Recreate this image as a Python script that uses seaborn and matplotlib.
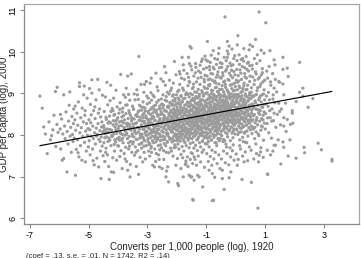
import numpy as np
import pandas as pd
import matplotlib
matplotlib.use("Agg")
import matplotlib.pyplot as plt
import seaborn as sns

# ---- data: (converts per 1,000 people (log), 1920 ; GDP per capita (log), 2000) ----
pts_a = [(-6.66,8.93),(-6.58,8.64),(-6.53,8.19),(-6.41,7.55),(-6.47,8.02),(-6.35,8.31),(-6.30,7.88),(-6.22,8.12),
         (-6.18,8.47),(-6.12,7.72),(-6.08,8.25),(-6.13,9.04),(-6.26,7.98),(-6.04,8.06),(-6.07,9.14)]
pts_b = [(-5.97,8.14),(-5.95,7.66),(-5.92,8.38),(-5.90,7.39),(-5.88,8.02),(-5.85,8.96),(-5.85,7.43),(-5.82,8.21),
         (-5.80,7.91),(-5.77,8.55),(-5.74,7.11),(-5.73,8.08),(-5.70,7.78),(-5.68,8.33),(-5.66,8.71),(-5.63,7.97),
         (-5.61,8.18),(-5.59,7.58),(-5.57,8.44),(-5.55,8.01),(-5.53,7.84),(-5.52,8.27),(-5.51,8.62),(-5.96,8.49),(-5.64,9.03)]
pts_c = [(-5.49,7.92),(-5.47,8.36),(-5.45,7.03),(-5.44,8.11),(-5.42,7.65),(-5.40,8.52),(-5.38,7.88),(-5.37,8.23),
         (-5.35,8.79),(-5.33,7.47),(-5.31,9.25),(-5.31,9.16),(-5.30,8.05),(-5.28,7.74),(-5.27,8.41),(-5.25,8.17),
         (-5.23,7.39),(-5.22,8.64),(-5.20,7.96),(-5.18,8.31),(-5.17,8.96),(-5.15,9.17),(-5.14,7.82),(-5.13,8.47),
         (-5.11,7.35),(-5.10,8.09),(-5.08,7.61),(-5.07,8.27),(-5.05,8.88),(-5.04,7.99),(-5.02,8.15),(-5.01,7.71),
         (-5.46,8.69),(-5.36,7.57),(-5.12,8.58)]
pts_d = [(-4.99,8.36),(-4.98,7.86),(-4.96,8.12),(-4.95,7.52),(-4.94,8.73),(-4.92,7.97),(-4.91,8.48),(-4.89,9.32),
         (-4.89,9.00),(-4.87,7.66),(-4.86,8.21),(-4.84,7.91),(-4.83,8.58),(-4.81,7.28),(-4.80,8.05),(-4.78,8.39),
         (-4.77,7.78),(-4.75,8.84),(-4.74,8.16),(-4.72,7.44),(-4.71,8.01),(-4.69,9.33),(-4.68,8.27),(-4.66,7.23),
         (-4.65,7.89),(-4.63,8.62),(-4.62,8.10),(-4.60,7.61),(-4.59,8.43),(-4.58,6.95),(-4.57,7.95),(-4.55,8.31),
         (-4.54,7.73),(-4.53,8.95),(-4.52,8.07),(-4.51,7.50),(-4.97,9.11),(-4.85,7.38),(-4.79,8.67),(-4.73,7.97),
         (-4.67,8.52),(-4.61,7.84),(-4.56,8.19),(-4.64,9.08),(-4.93,8.29)]
pts_e = [(-4.49,8.22),(-4.48,7.81),(-4.47,8.56),(-4.45,7.36),(-4.44,8.03),(-4.43,8.91),(-4.41,7.68),(-4.40,8.37),
         (-4.39,7.95),(-4.37,8.14),(-4.36,7.52),(-4.35,8.72),(-4.33,8.06),(-4.32,7.24),(-4.30,6.93),(-4.29,8.45),
         (-4.28,7.87),(-4.26,8.29),(-4.25,9.19),(-4.24,7.74),(-4.23,7.11),(-4.22,8.11),(-4.20,8.63),(-4.19,7.97),
         (-4.18,7.45),(-4.16,8.34),(-4.15,7.10),(-4.15,8.88),(-4.14,8.02),(-4.12,7.61),(-4.11,8.49),(-4.10,8.19),
         (-4.08,7.83),(-4.07,9.07),(-4.06,8.26),(-4.05,7.39),(-4.04,8.04),(-4.03,8.67),(-4.02,7.91),(-4.01,8.41),
         (-4.46,8.11),(-4.42,7.58),(-4.34,8.28),(-4.27,8.82),(-4.21,7.99),(-4.17,8.58),(-4.13,7.77),(-4.09,8.33),
         (-4.38,9.26),(-4.31,7.92)]
pts_f = [(-3.99,8.15),(-3.98,7.73),(-3.97,8.52),(-3.96,7.94),(-3.95,8.31),(-3.94,7.48),(-3.93,8.77),(-3.92,8.06),
         (-3.91,9.45),(-3.90,7.62),(-3.89,8.22),(-3.88,7.88),(-3.87,8.43),(-3.86,7.19),(-3.85,8.01),(-3.84,8.64),
         (-3.83,7.81),(-3.81,8.96),(-3.80,8.18),(-3.79,7.55),(-3.78,8.36),(-3.77,7.99),(-3.76,8.09),(-3.75,8.90),
         (-3.74,7.70),(-3.73,8.51),(-3.72,8.27),(-3.71,7.36),(-3.70,8.04),(-3.69,8.72),(-3.68,7.91),(-3.67,9.41),
         (-3.67,7.15),(-3.66,8.39),(-3.65,8.14),(-3.64,7.66),(-3.63,8.58),(-3.62,7.96),(-3.61,8.25),(-3.60,8.83),
         (-3.59,6.99),(-3.58,8.47),(-3.57,7.84),(-3.56,8.11),(-3.55,9.46),(-3.54,8.33),(-3.53,7.58),(-3.52,8.02),
         (-3.51,8.69),(-3.50,7.78),(-3.82,8.29),(-3.76,7.42),(-3.72,9.12),(-3.64,8.97),(-3.58,7.29),(-3.85,8.55),
         (-3.69,8.21),(-3.61,7.73),(-3.53,8.41),(-3.95,7.87)]
pts_g = [(-3.49,8.26),(-3.48,7.83),(-3.47,8.61),(-3.46,7.95),(-3.45,8.38),(-3.44,7.51),(-3.43,8.12),(-3.42,8.84),
         (-3.41,7.71),(-3.40,8.47),(-3.39,8.03),(-3.38,7.24),(-3.37,8.29),(-3.36,9.08),(-3.35,7.89),(-3.34,8.96),
         (-3.34,8.18),(-3.33,7.62),(-3.32,8.55),(-3.31,8.07),(-3.30,7.05),(-3.29,9.88),(-3.29,8.35),(-3.28,7.77),
         (-3.27,8.71),(-3.26,8.14),(-3.25,7.46),(-3.24,8.42),(-3.23,7.98),(-3.22,9.21),(-3.21,8.24),(-3.20,7.68),
         (-3.19,8.59),(-3.18,8.01),(-3.17,8.33),(-3.16,7.35),(-3.15,8.79),(-3.14,7.92),(-3.13,8.16),(-3.12,8.51),
         (-3.11,7.58),(-3.10,9.21),(-3.10,8.28),(-3.09,7.86),(-3.08,8.64),(-3.07,7.42),(-3.06,8.09),(-3.05,8.45),
         (-3.04,9.28),(-3.04,7.74),(-3.03,8.21),(-3.02,8.93),(-3.01,7.99),(-3.00,8.37),(-3.45,8.98),(-3.39,7.58),
         (-3.31,8.85),(-3.26,7.92),(-3.21,8.67),(-3.14,8.41),(-3.08,8.05),(-3.47,8.19),(-3.36,8.49),(-3.19,7.81),(-3.12,9.02)]
pts_h = [(-2.99,8.18),(-2.98,7.84),(-2.97,8.56),(-2.96,7.61),(-2.95,8.31),(-2.94,8.02),(-2.93,8.77),(-2.92,7.49),
         (-2.91,9.24),(-2.91,8.24),(-2.90,7.93),(-2.89,8.49),(-2.88,9.01),(-2.88,8.11),(-2.87,7.72),(-2.86,8.38),
         (-2.85,8.65),(-2.84,7.97),(-2.83,8.27),(-2.82,7.27),(-2.81,8.53),(-2.80,8.06),(-2.79,7.81),(-2.78,8.42),
         (-2.77,8.91),(-2.76,7.23),(-2.76,8.17),(-2.75,7.66),(-2.74,8.34),(-2.73,8.71),(-2.72,7.98),(-2.71,8.22),
         (-2.70,7.55),(-2.69,8.59),(-2.68,8.09),(-2.67,9.15),(-2.66,7.89),(-2.65,8.45),(-2.64,8.29),(-2.63,7.74),
         (-2.62,8.83),(-2.61,8.13),(-2.60,7.41),(-2.59,7.23),(-2.59,8.36),(-2.58,8.01),(-2.57,8.62),(-2.56,7.86),
         (-2.55,8.49),(-2.54,9.34),(-2.53,8.19),(-2.52,7.69),(-2.51,8.74),(-2.50,7.19),(-2.50,8.27),(-2.97,8.88),
         (-2.93,8.15),(-2.86,7.58),(-2.81,8.95),(-2.78,8.61),(-2.72,7.36),(-2.68,8.51),(-2.64,9.06),(-2.61,8.33),
         (-2.56,7.95),(-2.53,8.55),(-2.84,8.43),(-2.74,7.91),(-2.66,8.04),(-2.58,8.69),(-2.95,7.77),(-2.87,9.36),
         (-2.79,8.13),(-2.71,9.48),(-2.62,7.52)]
pts_i = [(-2.49,8.31),(-2.48,7.88),(-2.47,8.64),(-2.46,8.06),(-2.45,7.62),(-2.44,8.47),(-2.43,8.19),(-2.42,9.64),
         (-2.41,7.95),(-2.40,8.83),(-2.39,8.37),(-2.38,7.74),(-2.37,9.49),(-2.37,6.99),(-2.36,8.12),(-2.35,7.13),
         (-2.35,8.56),(-2.34,8.28),(-2.33,7.82),(-2.32,9.02),(-2.31,7.23),(-2.31,8.41),(-2.30,8.03),(-2.29,8.69),
         (-2.28,6.87),(-2.28,8.22),(-2.27,7.57),(-2.26,8.51),(-2.25,9.31),(-2.25,8.14),(-2.24,7.91),(-2.23,8.78),
         (-2.22,8.35),(-2.21,7.68),(-2.20,8.59),(-2.19,8.09),(-2.18,9.12),(-2.17,8.44),(-2.16,7.83),(-2.15,8.26),
         (-2.14,8.93),(-2.13,7.49),(-2.12,9.24),(-2.12,8.17),(-2.11,8.62),(-2.10,7.97),(-2.09,8.38),(-2.08,9.76),
         (-2.08,8.71),(-2.07,7.76),(-2.06,8.29),(-2.05,8.52),(-2.04,8.01),(-2.03,9.44),(-2.03,7.27),(-2.02,8.45),
         (-2.01,8.11),(-2.00,7.86),(-2.47,8.96),(-2.44,7.41),(-2.41,8.58),(-2.38,8.24),(-2.34,8.81),(-2.31,7.99),
         (-2.27,8.66),(-2.24,8.46),(-2.21,9.06),(-2.18,7.61),(-2.15,8.74),(-2.12,8.33),(-2.09,7.69),(-2.06,8.87),
         (-2.03,8.57),(-2.45,8.39),(-2.39,9.19),(-2.33,8.05),(-2.29,8.33),(-2.23,8.18),(-2.19,8.41),(-2.14,8.06),
         (-2.10,8.49),(-2.05,8.25),(-2.01,8.96),(-2.48,8.72),(-2.36,7.58),(-2.26,8.98),(-2.16,8.54),(-2.07,8.16),
         (-2.02,7.95),(-2.43,7.79),(-2.32,8.67),(-2.22,7.89),(-2.13,8.82),(-2.04,7.71),(-2.46,9.28)]
pts_j = [(-1.97,6.83),(-1.94,6.78),(-1.86,7.19),(-1.89,9.46),(-1.82,9.86),(-1.78,9.68),(-1.78,6.99),(-1.71,7.29),
         (-1.69,7.31),(-1.60,9.86),(-1.60,9.38),(-1.58,7.03),(-1.55,10.12),(-1.52,6.99),(-1.52,9.65),(-1.51,10.08),
         (-1.99,8.34),(-1.99,7.92),(-1.98,8.61),(-1.98,8.12),(-1.97,8.47),(-1.96,7.78),(-1.96,8.88),(-1.95,8.23),
         (-1.95,8.02),(-1.94,8.55),(-1.93,9.07),(-1.93,7.66),(-1.92,8.39),(-1.92,8.18),(-1.91,8.74),(-1.91,7.95),
         (-1.90,8.29),(-1.90,9.21),(-1.89,8.51),(-1.88,7.85),(-1.88,8.07),(-1.87,8.66),(-1.87,8.36),(-1.86,7.53),
         (-1.85,8.92),(-1.85,8.21),(-1.84,8.45),(-1.84,7.99),(-1.83,8.79),(-1.83,8.13),(-1.82,7.72),(-1.81,8.58),
         (-1.81,8.31),(-1.80,9.12),(-1.80,8.02),(-1.79,8.42),(-1.78,8.86),(-1.77,7.89),(-1.77,8.25),(-1.76,8.63),
         (-1.76,7.61),(-1.75,8.49),(-1.75,8.11),(-1.74,9.33),(-1.74,8.37),(-1.73,7.96),(-1.73,8.71),(-1.72,8.19),
         (-1.72,7.81),(-1.71,8.54),(-1.70,8.97),(-1.70,8.06),(-1.69,8.34),(-1.68,7.74),(-1.68,8.62),(-1.67,8.27),
         (-1.67,9.01),(-1.66,8.46),(-1.66,7.93),(-1.65,8.15),(-1.64,8.79),(-1.64,7.47),(-1.63,8.39),(-1.63,8.56),
         (-1.62,8.03),(-1.62,9.18),(-1.61,8.29),(-1.61,7.87),(-1.60,8.68),(-1.59,8.44),(-1.59,8.12),(-1.58,7.69),
         (-1.58,8.91),(-1.57,8.33),(-1.57,8.58),(-1.56,7.98),(-1.56,9.26),(-1.55,8.49),(-1.55,8.21),(-1.54,7.79),
         (-1.54,8.74),(-1.53,8.37),(-1.53,8.06),(-1.52,8.61),(-1.51,7.57),(-1.51,8.83),(-1.50,8.27),(-1.50,8.44),
         (-1.98,7.43),(-1.91,9.52),(-1.84,9.36),(-1.76,9.55),(-1.69,7.37),(-1.65,9.47),(-1.62,7.24),(-1.57,9.71),
         (-1.54,7.41),(-1.95,8.77),(-1.80,7.45)]
pts_k = [(-1.49,6.99),(-1.46,6.45),(-1.44,6.43),(-1.41,6.91),(-1.37,9.49),(-1.29,7.03),(-1.24,6.99),(-1.16,9.76),
         (-1.12,6.75),(-1.01,9.80),(-1.41,7.47),(-1.46,7.31),
         (-1.49,8.42),(-1.49,8.13),(-1.48,8.71),(-1.48,7.91),(-1.47,8.35),(-1.47,8.96),(-1.46,8.19),(-1.46,8.57),
         (-1.45,7.82),(-1.45,8.48),(-1.44,9.14),(-1.44,8.27),(-1.43,8.65),(-1.43,8.04),(-1.42,8.39),(-1.42,7.68),
         (-1.41,8.82),(-1.40,8.21),(-1.40,8.53),(-1.39,7.97),(-1.39,9.03),(-1.38,8.31),(-1.38,8.67),(-1.37,8.09),
         (-1.36,8.45),(-1.36,7.75),(-1.35,8.92),(-1.35,8.24),(-1.34,8.59),(-1.34,8.01),(-1.33,9.27),(-1.33,8.37),
         (-1.32,7.88),(-1.32,8.74),(-1.31,8.16),(-1.31,8.51),(-1.30,8.88),(-1.30,7.62),(-1.29,8.29),(-1.28,8.63),
         (-1.28,8.07),(-1.27,9.09),(-1.27,8.43),(-1.26,7.94),(-1.26,8.78),(-1.25,8.22),(-1.25,8.55),(-1.24,8.35),
         (-1.23,7.81),(-1.23,8.97),(-1.22,8.13),(-1.22,8.69),(-1.21,8.46),(-1.21,9.21),(-1.20,8.03),(-1.20,8.32),
         (-1.19,8.84),(-1.19,7.71),(-1.18,8.57),(-1.18,8.19),(-1.17,8.41),(-1.17,9.38),(-1.16,7.98),(-1.15,8.73),
         (-1.15,8.26),(-1.14,8.62),(-1.14,8.09),(-1.13,9.01),(-1.13,8.38),(-1.12,7.86),(-1.11,8.51),(-1.11,8.17),
         (-1.10,8.94),(-1.10,8.44),(-1.09,7.64),(-1.09,8.29),(-1.08,8.67),(-1.08,8.05),(-1.07,9.15),(-1.07,8.49),
         (-1.06,7.93),(-1.06,8.81),(-1.05,8.24),(-1.05,8.58),(-1.04,8.36),(-1.04,9.43),(-1.03,7.79),(-1.03,8.71),
         (-1.02,8.14),(-1.02,8.99),(-1.01,8.47),(-1.00,8.31),(-1.00,7.98),(-1.47,7.55),(-1.38,7.41),(-1.33,7.27),
         (-1.27,7.49),(-1.19,7.35),(-1.14,7.58),(-1.06,7.22),(-1.42,9.41),(-1.35,9.62),(-1.26,9.53),(-1.21,9.67),
         (-1.09,9.58),(-1.04,9.89),(-1.45,8.87),(-1.31,8.42),(-1.24,8.91),(-1.16,8.33),(-1.12,8.61)]
pts_l = [(-0.96,10.24),(-0.79,6.42),(-0.79,7.07),(-0.75,6.43),(-0.56,10.08),
         (-0.99,8.53),(-0.99,8.17),(-0.98,8.84),(-0.98,8.36),(-0.97,7.92),(-0.97,8.67),(-0.96,8.28),(-0.96,9.11),
         (-0.95,8.49),(-0.95,8.02),(-0.94,8.76),(-0.94,8.41),(-0.93,7.84),(-0.93,9.32),(-0.92,8.59),(-0.92,8.21),
         (-0.91,8.95),(-0.91,8.33),(-0.90,7.71),(-0.90,8.64),(-0.89,8.12),(-0.89,8.87),(-0.88,8.45),(-0.88,9.21),
         (-0.87,8.06),(-0.87,8.72),(-0.86,8.38),(-0.86,7.97),(-0.85,8.91),(-0.85,8.54),(-0.84,8.24),(-0.84,9.47),
         (-0.83,8.68),(-0.83,7.88),(-0.82,8.31),(-0.82,8.99),(-0.81,8.47),(-0.81,8.14),(-0.80,8.79),(-0.80,7.63),
         (-0.79,8.57),(-0.78,8.26),(-0.78,9.06),(-0.77,8.43),(-0.77,8.02),(-0.76,8.83),(-0.76,9.62),(-0.75,8.35),
         (-0.74,8.66),(-0.74,7.94),(-0.73,8.19),(-0.73,8.94),(-0.72,8.51),(-0.72,9.27),(-0.71,8.09),(-0.71,8.73),
         (-0.70,8.39),(-0.70,7.81),(-0.69,8.61),(-0.69,9.13),(-0.68,8.29),(-0.68,8.86),(-0.67,8.46),(-0.67,7.99),
         (-0.66,9.38),(-0.66,8.71),(-0.65,8.17),(-0.65,8.55),(-0.64,8.92),(-0.64,7.74),(-0.63,8.34),(-0.63,8.81),
         (-0.62,8.06),(-0.62,9.04),(-0.61,8.63),(-0.61,8.41),(-0.60,7.91),(-0.60,9.51),(-0.59,8.27),(-0.59,8.76),
         (-0.58,8.52),(-0.58,8.12),(-0.57,8.97),(-0.57,9.22),(-0.56,8.37),(-0.55,8.69),(-0.55,7.86),(-0.54,8.48),
         (-0.54,9.09),(-0.53,8.21),(-0.53,8.84),(-0.52,8.58),(-0.52,9.73),(-0.51,8.01),(-0.51,8.44),(-0.50,8.78),
         (-0.98,7.55),(-0.93,7.36),(-0.86,7.48),(-0.81,7.27),(-0.74,7.42),(-0.69,7.58),(-0.63,7.31),(-0.57,7.52),
         (-0.53,7.19),(-0.95,9.77),(-0.89,9.64),(-0.83,9.91),(-0.76,10.02),(-0.71,9.83),(-0.65,9.69),(-0.58,9.95),
         (-0.97,9.41),(-0.88,9.56),(-0.79,9.31),(-0.62,9.44),(-0.55,9.61),(-0.84,8.57),(-0.72,8.62),(-0.66,8.28),
         (-0.90,7.15),(-0.71,6.98)]
pts_m = [(-0.45,6.95),(-0.45,7.15),(-0.39,6.69),(-0.36,10.83),(-0.28,10.24),(-0.28,10.01),(-0.22,10.13),
         (-0.22,6.97),(-0.16,7.11),(-0.03,9.90),
         (-0.49,8.62),(-0.49,8.24),(-0.48,8.93),(-0.48,8.45),(-0.47,7.98),(-0.47,8.71),(-0.46,8.36),(-0.46,9.18),
         (-0.45,8.57),(-0.44,8.11),(-0.44,8.84),(-0.43,8.49),(-0.43,9.42),(-0.42,8.27),(-0.42,8.67),(-0.41,7.89),
         (-0.41,9.03),(-0.40,8.41),(-0.40,8.76),(-0.39,8.18),(-0.38,8.97),(-0.38,8.55),(-0.37,9.29),(-0.37,8.33),
         (-0.36,8.81),(-0.35,8.06),(-0.35,8.64),(-0.34,9.14),(-0.34,8.47),(-0.33,7.78),(-0.33,8.91),(-0.32,8.29),
         (-0.32,8.69),(-0.31,9.57),(-0.31,8.52),(-0.30,8.15),(-0.30,8.87),(-0.29,8.38),(-0.29,9.08),(-0.28,8.61),
         (-0.27,7.95),(-0.27,8.79),(-0.26,8.44),(-0.26,9.33),(-0.25,8.22),(-0.25,8.73),(-0.24,9.01),(-0.24,8.56),
         (-0.23,8.09),(-0.23,8.94),(-0.21,8.35),(-0.21,9.48),(-0.20,8.67),(-0.20,8.12),(-0.19,8.86),(-0.19,8.48),
         (-0.18,9.19),(-0.18,7.86),(-0.17,8.62),(-0.17,8.31),(-0.16,8.98),(-0.15,8.53),(-0.15,9.66),(-0.14,8.19),
         (-0.14,8.77),(-0.13,8.42),(-0.13,9.11),(-0.12,8.04),(-0.12,8.68),(-0.11,8.91),(-0.11,8.36),(-0.10,9.37),
         (-0.10,8.57),(-0.09,7.93),(-0.09,8.82),(-0.08,8.26),(-0.08,9.05),(-0.07,8.71),(-0.07,8.47),(-0.06,9.52),
         (-0.06,8.14),(-0.05,8.89),(-0.05,8.58),(-0.04,8.33),(-0.04,9.24),(-0.03,8.74),(-0.02,8.02),(-0.02,8.96),
         (-0.01,8.51),(-0.01,9.16),(-0.48,7.42),(-0.41,7.61),(-0.35,7.33),(-0.29,7.55),(-0.23,7.28),(-0.17,7.47),
         (-0.11,7.62),(-0.05,7.39),(-0.46,9.71),(-0.39,9.86),(-0.32,9.78),(-0.25,9.94),(-0.19,9.72),(-0.12,10.06),
         (-0.06,9.83),(-0.43,7.84),(-0.31,7.71),(-0.19,7.69),(-0.08,7.76),(-0.27,9.64),(-0.14,9.55),(-0.44,9.49),
         (-0.36,8.69),(-0.21,8.48)]
pts_n = [(0.08,10.38),(0.06,10.16),(0.06,7.27),(0.27,9.77),(0.29,7.35),(0.40,9.72),(0.46,10.04),(0.49,10.16),
         (0.01,8.65),(0.01,8.28),(0.02,8.97),(0.03,8.46),(0.03,9.31),(0.04,8.12),(0.04,8.79),(0.05,8.54),
         (0.06,9.08),(0.07,8.37),(0.07,8.89),(0.08,8.01),(0.09,8.63),(0.09,9.42),(0.10,8.21),(0.11,8.77),
         (0.11,8.49),(0.12,9.17),(0.13,8.34),(0.13,8.92),(0.14,7.88),(0.15,8.59),(0.15,9.56),(0.16,8.16),
         (0.17,8.83),(0.17,8.43),(0.18,9.02),(0.19,8.69),(0.19,8.07),(0.20,9.33),(0.21,8.51),(0.21,8.26),
         (0.22,8.94),(0.23,8.38),(0.23,9.64),(0.24,7.94),(0.25,8.72),(0.25,9.11),(0.26,8.55),(0.27,8.19),
         (0.28,8.86),(0.28,8.41),(0.29,9.24),(0.30,8.04),(0.31,8.67),(0.31,9.47),(0.32,8.31),(0.33,8.98),
         (0.33,8.53),(0.34,7.82),(0.35,8.76),(0.35,9.08),(0.36,8.23),(0.37,8.61),(0.37,9.36),(0.38,8.45),
         (0.39,8.09),(0.39,8.91),(0.40,8.58),(0.41,9.19),(0.42,8.35),(0.42,7.97),(0.43,8.82),(0.44,8.49),
         (0.44,9.53),(0.45,8.17),(0.46,8.71),(0.47,8.96),(0.47,8.28),(0.48,9.28),(0.49,8.62),(0.02,7.54),
         (0.09,7.41),(0.17,7.66),(0.24,7.49),(0.33,7.59),(0.41,7.38),(0.47,7.71),(0.05,9.78),(0.12,9.92),
         (0.19,9.81),(0.28,10.07),(0.36,9.88),(0.44,9.74),(0.14,7.74),(0.38,7.81),(0.22,6.93),(0.13,9.69),
         (0.31,9.61),(0.48,9.66),(0.26,7.84)]
pts_o = [(0.54,6.86),(0.68,10.29),(0.71,7.55),(0.74,9.92),(0.76,6.24),(0.80,10.95),(0.80,7.51),(0.80,8.60),
         (0.85,7.59),(0.97,9.96),
         (0.51,8.44),(0.52,8.87),(0.53,8.21),(0.54,9.13),(0.55,8.59),(0.56,8.03),(0.57,8.74),(0.58,9.39),
         (0.59,8.36),(0.60,8.92),(0.61,8.14),(0.62,8.67),(0.63,9.21),(0.64,8.49),(0.65,7.91),(0.66,8.81),
         (0.67,8.29),(0.68,9.51),(0.69,8.62),(0.70,8.07),(0.71,8.97),(0.72,8.41),(0.73,9.06),(0.75,8.24),
         (0.76,8.71),(0.77,9.34),(0.78,8.53),(0.79,7.98),(0.81,8.88),(0.82,8.33),(0.83,9.16),(0.84,8.58),
         (0.86,8.11),(0.87,8.79),(0.88,9.44),(0.89,8.39),(0.90,8.96),(0.91,8.19),(0.92,8.66),(0.93,9.27),
         (0.94,8.47),(0.95,7.87),(0.96,8.73),(0.97,9.08),(0.98,8.28),(0.99,8.84),(0.53,7.63),(0.62,7.42),
         (0.69,7.78),(0.78,7.35),(0.86,7.69),(0.94,7.46),(0.56,9.67),(0.64,9.83),(0.72,9.71),(0.83,9.78),
         (0.91,9.59),(0.58,10.12),(0.87,10.03)]
pts_p = [(1.03,10.69),(1.08,7.06),(1.08,7.63),(1.10,7.05),(1.14,9.64),(1.17,10.02),(1.28,8.96),(1.31,9.80),
         (1.31,9.12),(1.31,7.75),(1.34,9.68),(1.36,7.75),(1.47,9.28),(1.47,8.76),(1.50,9.26),(1.50,8.56),
         (1.02,8.51),(1.05,8.93),(1.07,8.27),(1.09,9.36),(1.11,8.68),(1.13,8.05),(1.15,8.84),(1.18,8.41),
         (1.20,9.19),(1.22,7.92),(1.24,8.62),(1.26,9.47),(1.29,8.34),(1.33,8.77),(1.37,8.18),(1.40,9.03),
         (1.42,8.49),(1.45,7.88),(1.19,7.52),(1.27,7.61)]
pts_q = [(1.53,8.24),(1.54,7.30),(1.61,9.86),(1.61,9.57),(1.61,9.22),(1.61,7.83),(1.64,8.96),(1.64,8.41),
         (1.64,8.21),(1.64,7.70),(1.70,8.76),(1.76,9.60),(1.76,8.37),(1.79,9.40),(1.79,7.49),(1.85,7.88),
         (1.87,8.25),(1.93,8.58),(1.93,8.52),(1.95,8.28),(1.56,8.62),(1.72,8.08)]
pts_r = [(2.06,8.80),(2.06,7.44),(2.18,9.74),(2.18,9.02),(2.29,9.12),(2.29,8.93),(2.33,7.70),(2.35,7.57),(2.47,8.66)]
pts_s = [(2.63,8.87),(2.81,7.80),(2.92,7.64),(3.28,7.41),(3.28,7.37)]

# dense core of the cloud
core_leftmid = [(-4.48,8.17),(-4.45,7.93),(-4.41,8.42),(-4.38,8.06),(-4.34,7.84),(-4.31,8.31),(-4.28,8.13),(-4.24,8.56),
         (-4.21,7.96),(-4.17,8.24),(-4.14,8.47),(-4.11,7.88),(-4.07,8.12),(-4.04,8.36),(-4.01,7.74),(-3.97,8.21),
         (-3.94,8.61),(-3.91,8.03),(-3.88,8.33),(-3.84,7.92),(-3.81,8.46),(-3.78,8.15),(-3.74,8.71),(-3.71,8.01),
         (-3.68,8.28),(-3.64,7.81),(-3.61,8.52),(-3.58,8.19),(-3.54,8.39),(-3.51,7.97),(-3.48,8.63),(-3.44,8.08),
         (-3.41,8.27),(-3.38,7.89),(-3.34,8.44),(-3.31,8.17),(-3.28,8.58),(-3.25,8.02),(-3.22,8.34),(-3.21,7.79)]
core1 = [(-3.19,8.21),(-3.17,7.94),(-3.16,8.48),(-3.14,8.13),(-3.13,8.66),(-3.11,7.87),(-3.10,8.32),(-3.08,8.19),
         (-3.07,8.57),(-3.05,7.99),(-3.04,8.41),(-3.02,8.08),(-3.01,8.74),(-2.99,8.27),(-2.98,7.91),(-2.96,8.52),
         (-2.95,8.16),(-2.93,8.37),(-2.92,7.79),(-2.90,8.61),(-2.89,8.04),(-2.87,8.29),(-2.86,8.83),(-2.84,8.11),
         (-2.83,7.86),(-2.81,8.44),(-2.80,8.22),(-2.78,8.69),(-2.77,7.96),(-2.75,8.35),(-2.74,8.06),(-2.72,8.56),
         (-2.71,7.83),(-2.69,8.25),(-2.68,8.78),(-2.66,8.14),(-2.65,7.93),(-2.63,8.47),(-2.62,8.21),(-2.60,8.63),
         (-2.59,8.02),(-2.57,8.39),(-2.56,7.76),(-2.54,8.28),(-2.53,8.86),(-2.51,8.09),(-2.50,8.51),(-2.48,7.97),
         (-2.47,8.33),(-2.45,8.71),(-2.44,8.15),(-2.42,8.43),(-2.41,7.89),(-2.39,8.58),(-2.38,8.24),(-2.36,8.92),
         (-2.35,8.03),(-2.33,8.37),(-2.32,7.84),(-2.30,8.66),(-2.29,8.18),(-2.27,8.49),(-2.26,7.94),(-2.24,8.29),
         (-2.23,8.76),(-2.21,8.12),(-2.20,8.55),(-3.12,7.73),(-2.88,7.68),(-2.58,7.64)]
core2 = [(-2.19,8.34),(-2.18,8.07),(-2.17,8.71),(-2.16,8.22),(-2.15,7.91),(-2.14,8.53),(-2.13,8.39),(-2.12,8.96),
         (-2.11,8.14),(-2.10,8.62),(-2.09,7.86),(-2.08,8.46),(-2.07,8.28),(-2.06,8.81),(-2.05,8.02),(-2.04,8.57),
         (-2.03,8.19),(-2.02,8.74),(-2.01,7.97),(-2.00,8.41),(-1.99,8.67),(-1.98,8.26),(-1.97,9.04),(-1.96,8.11),
         (-1.95,8.49),(-1.94,7.88),(-1.93,8.36),(-1.92,8.84),(-1.91,8.21),(-1.90,8.59),(-1.89,8.04),(-1.88,8.72),
         (-1.87,8.31),(-1.86,8.94),(-1.85,7.93),(-1.84,8.54),(-1.83,8.17),(-1.82,8.43),(-1.81,8.79),(-1.80,8.09),
         (-1.79,8.64),(-1.78,8.24),(-1.77,9.07),(-1.76,8.38),(-1.75,7.84),(-1.74,8.51),(-1.73,8.16),(-1.72,8.88),
         (-1.71,8.33),(-1.70,8.61),(-1.69,7.99),(-1.68,8.46),(-1.67,8.73),(-1.66,8.12),(-1.65,8.56),(-1.64,8.29),
         (-1.63,8.97),(-1.62,8.06),(-1.61,8.42),(-1.60,8.77),(-1.59,8.23),(-1.58,8.52),(-1.57,7.92),(-1.56,8.68),
         (-1.55,8.35),(-1.54,8.99),(-1.53,8.14),(-1.52,8.47),(-1.51,8.81),(-1.50,8.03),(-1.49,8.58),(-1.48,8.31),
         (-1.47,9.11),(-1.46,8.43),(-1.45,8.18),(-1.44,8.69),(-1.43,7.96),(-1.42,8.54),(-1.41,8.27),(-1.40,8.86),
         (-1.39,8.39),(-1.38,8.12),(-1.37,8.76),(-1.36,8.49),(-1.35,8.06),(-1.34,8.63),(-1.33,8.34),(-1.32,9.02),
         (-1.31,8.21),(-1.30,8.57),(-1.29,7.89),(-1.28,8.44),(-1.27,8.71),(-1.26,8.15),(-1.25,8.92),(-1.24,8.37),
         (-1.23,8.62),(-1.22,8.01),(-1.21,8.49),(-1.20,8.79)]
core3 = [(-1.19,8.41),(-1.18,8.72),(-1.17,8.13),(-1.16,8.59),(-1.15,9.06),(-1.14,8.31),(-1.13,8.84),(-1.12,8.04),
         (-1.11,8.66),(-1.10,8.27),(-1.09,8.93),(-1.08,8.49),(-1.07,7.96),(-1.06,8.61),(-1.05,8.38),(-1.04,9.12),
         (-1.03,8.19),(-1.02,8.77),(-1.01,8.54),(-1.00,8.06),(-0.99,8.69),(-0.98,8.32),(-0.97,9.01),(-0.96,8.47),
         (-0.95,8.14),(-0.94,8.86),(-0.93,8.57),(-0.92,7.93),(-0.91,8.63),(-0.90,8.36),(-0.89,9.18),(-0.88,8.24),
         (-0.87,8.79),(-0.86,8.52),(-0.85,8.09),(-0.84,8.71),(-0.83,8.43),(-0.82,9.07),(-0.81,8.29),(-0.80,8.61),
         (-0.79,8.88),(-0.78,8.17),(-0.77,8.56),(-0.76,8.34),(-0.75,8.97),(-0.74,8.46),(-0.73,7.99),(-0.72,8.74),
         (-0.71,8.26),(-0.70,8.93),(-0.69,8.51),(-0.68,8.11),(-0.67,8.67),(-0.66,8.39),(-0.65,9.14),(-0.64,8.21),
         (-0.63,8.82),(-0.62,8.54),(-0.61,8.03),(-0.60,8.73),(-0.59,8.44),(-0.58,9.03),(-0.57,8.31),(-0.56,8.64),
         (-0.55,8.16),(-0.54,8.89),(-0.53,8.48),(-0.52,8.24),(-0.51,8.96),(-0.50,8.57),(-0.49,8.08),(-0.48,8.69),
         (-0.47,8.36),(-0.46,9.09),(-0.45,8.51),(-0.44,8.27),(-0.43,8.81),(-0.42,8.59),(-0.41,8.13),(-0.40,8.92),
         (-0.39,8.46),(-0.38,8.22),(-0.37,8.74),(-0.36,8.41),(-0.35,9.21),(-0.34,8.63),(-0.33,8.18),(-0.32,8.86),
         (-0.31,8.34),(-0.30,8.57),(-0.29,8.02),(-0.28,8.77),(-0.27,8.49),(-0.26,9.04),(-0.25,8.29),(-0.24,8.66),
         (-0.23,8.38),(-0.22,8.91),(-0.21,8.11),(-0.20,8.54),(-1.13,7.84),(-0.97,7.78),(-0.82,7.87),(-0.66,7.81),
         (-0.52,7.91),(-0.37,7.86),(-1.06,9.27),(-0.88,9.34),(-0.71,9.29),(-0.49,9.36)]
core4 = [(-0.19,8.62),(-0.18,8.34),(-0.17,8.91),(-0.16,8.46),(-0.15,8.18),(-0.14,8.73),(-0.13,8.53),(-0.12,9.21),
         (-0.11,8.29),(-0.10,8.81),(-0.09,8.57),(-0.08,8.09),(-0.07,8.96),(-0.06,8.41),(-0.05,8.68),(-0.04,8.23),
         (-0.03,9.07),(-0.02,8.49),(-0.01,8.77),(0.00,8.36),(0.01,8.93),(0.02,8.58),(0.03,8.14),(0.04,8.84),
         (0.05,8.44),(0.06,9.26),(0.07,8.66),(0.08,8.31),(0.09,8.97),(0.10,8.52),(0.11,8.06),(0.12,8.74),
         (0.13,8.47),(0.14,9.13),(0.15,8.27),(0.16,8.69),(0.17,8.91),(0.18,8.38),(0.19,8.59),(0.20,8.16),
         (0.21,8.86),(0.22,8.53),(0.23,9.04),(0.24,8.42),(0.25,8.78),(0.26,8.21),(0.27,8.64),(0.28,9.18),
         (0.29,8.33),(0.30,8.83),(0.31,8.49),(0.32,8.07),(0.33,8.71),(0.34,8.94),(0.35,8.39),(0.36,8.61),
         (0.38,8.24),(0.39,9.09),(0.41,8.56),(0.42,8.81),(0.44,8.31),(0.45,8.67),(0.47,8.46),(0.48,9.01),
         (0.50,8.37),(0.52,8.72),(0.54,8.52),(0.56,8.93),(0.58,8.18),(0.60,8.64)]
core_right = [(0.46,8.88),(0.49,9.41),(0.51,8.12),(0.53,9.02),(0.55,8.33),(0.57,9.58),(0.59,8.71),(0.61,8.46),
         (0.63,8.94),(0.65,9.31),(0.66,8.18),(0.68,8.77),(0.70,9.46),(0.71,8.35),(0.73,8.61),(0.75,9.13),
         (0.77,8.02),(0.79,8.84),(0.81,9.38),(0.82,8.49),(0.84,8.93),(0.86,9.22),(0.88,8.21),(0.89,8.67),
         (0.91,9.49),(0.93,8.36),(0.95,8.98),(0.97,8.55),(0.99,9.31),(1.01,8.14),(1.04,8.74),(1.06,9.53),
         (1.09,8.41),(1.12,9.02),(1.16,8.58),(1.19,9.27),(1.23,8.33),(1.27,8.86),(1.31,8.52),(1.35,9.33)]
core_upper = [(-1.58,9.28),(-1.49,9.56),(-1.43,9.22),(-1.36,9.71),(-1.28,9.36),(-1.19,9.49),(-1.13,9.82),(-1.07,9.33),
         (-0.99,9.61),(-0.92,9.19),(-0.86,9.74),(-0.78,9.46),(-0.73,9.58),(-0.67,9.24),(-0.61,9.81),(-0.54,9.38),
         (-0.47,9.62),(-0.41,9.27),(-0.34,9.53),(-0.28,9.86),(-0.22,9.31),(-0.16,9.42),(-0.09,9.68),(-0.02,9.44),
         (0.04,9.57),(0.11,9.29),(0.18,9.48),(0.24,9.83),(0.32,9.39),(0.39,9.57)]

# OLS fit reported under the chart (coef = .13)
fit_slope = 0.131
fit_intercept = 8.612

x_ticks = [-7, -5, -3, -1, 1, 3]
y_ticks = [6, 7, 8, 9, 10, 11]
x_label = "Converts per 1,000 people (log), 1920"
y_label = "GDP per capita (log), 2000"
note = "(coef = .13, s.e. = .01, N = 1742, R2 = .14)"

all_pts = (pts_a + pts_b + pts_c + pts_d + pts_e + pts_f + pts_g + pts_h + pts_i + pts_j +
           pts_k + pts_l + pts_m + pts_n + pts_o + pts_p + pts_q + pts_r + pts_s +
           core_leftmid + core1 + core2 + core3 + core4 + core_right + core_upper)
df = pd.DataFrame(all_pts, columns=["converts", "gdp"])
xr = np.array([df["converts"].min(), df["converts"].max()])
fit_df = pd.DataFrame({"converts": xr, "gdp": fit_intercept + fit_slope * xr})

# ---- drawing ----
sns.set_style("white")
plt.rcParams["font.family"] = ["Liberation Sans", "DejaVu Sans"]

fig = plt.figure(figsize=(3.61, 2.58), dpi=100)
ax = fig.add_axes([24/361, 1 - 224/258, (359 - 24)/361, (224 - 4)/258])

sns.scatterplot(data=df, x="converts", y="gdp", ax=ax, color="#9b9b9b", s=5.5,
                linewidth=0, edgecolor="none", legend=False, zorder=2)
sns.lineplot(data=fit_df, x="converts", y="gdp", ax=ax, color="black", linewidth=0.85,
             legend=False, zorder=3)

ax.set_xlim(-7.2, 4.2)
ax.set_ylim(5.86, 11.14)
ax.set_xticks(x_ticks)
ax.set_xticklabels([str(t) for t in x_ticks])
ax.set_yticks(y_ticks)
ax.set_yticklabels([str(t) for t in y_ticks], rotation=90, va="center")

for side in ["left", "bottom"]:
    ax.spines[side].set_color("#8a8a8a")
    ax.spines[side].set_linewidth(0.9)
for side in ["top", "right"]:
    ax.spines[side].set_color("#a8a8a8")
    ax.spines[side].set_linewidth(0.9)
    ax.spines[side].set_visible(True)

ax.tick_params(axis="both", which="major", direction="out", length=3, width=0.8,
               color="#8a8a8a", labelsize=6.5, labelcolor="black", pad=2,
               bottom=True, left=True)

ax.set_xlabel(x_label, fontsize=7, labelpad=1.8)
ax.set_ylabel(y_label, fontsize=7)
ax.yaxis.set_label_coords(-0.045, 0.5)

fig.text(26/361, 1 - 252.5/258, note, fontsize=5.5, va="top", ha="left")

fig.savefig("out.png", dpi=100)
